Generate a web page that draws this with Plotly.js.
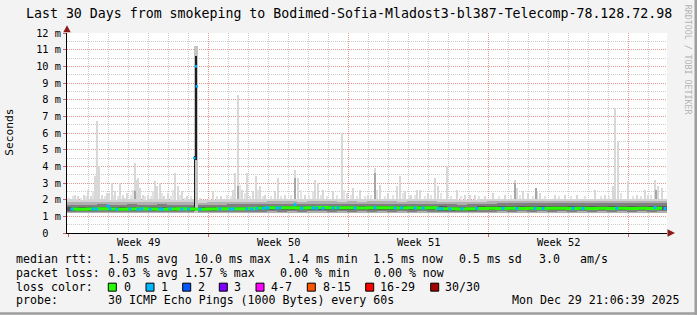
<!DOCTYPE html>
<html><head><meta charset="utf-8">
<script src="https://cdn.plot.ly/plotly-3.0.1.min.js"></script>
<style>html,body{margin:0;padding:0;background:#f3f3f3;}#chart{width:697px;height:315px;}</style>
</head><body><div id="chart"></div>
<script>
// ---------------- DATA (days since start of the 30-day window) ----------------
const weekLabels = ['Week 49', 'Week 50', 'Week 51', 'Week 52'];
const weekLabelDays = [3.55, 10.55, 17.55, 24.55];
const yTicks = [0,1,2,3,4,5,6,7,8,9,10,11,12];
const yTickText = ['0\u00a0\u00a0','1 m','2 m','3 m','4 m','5 m','6 m','7 m','8 m','9 m','10 m','11 m','12 m'];

// half-day bins (60 bins over 30 days), values in ms
const medianRtt = [
 1.44,1.43,1.44,1.45,1.44,1.43,1.44,1.45,1.44,1.43,
 1.44,1.45,1.44,1.43,1.44,1.45,1.46,1.45,1.47,1.50,
 1.52,1.51,1.52,1.50,1.51,1.53,1.52,1.51,1.52,1.50,
 1.51,1.52,1.51,1.50,1.51,1.50,1.51,1.46,1.45,1.44,
 1.45,1.47,1.48,1.47,1.48,1.47,1.48,1.47,1.48,1.48,
 1.47,1.48,1.47,1.48,1.47,1.48,1.47,1.48,1.47,1.48];
const smokeLo = [
 1.20,1.21,1.20,1.19,1.20,1.21,1.20,1.20,1.19,1.20,
 1.21,1.20,1.20,1.21,1.20,1.20,1.21,1.20,1.19,1.20,
 1.21,1.22,1.21,1.20,1.21,1.22,1.21,1.20,1.21,1.22,
 1.21,1.20,1.21,1.22,1.21,1.20,1.20,1.19,1.20,1.19,
 1.20,1.20,1.19,1.20,1.20,1.19,1.20,1.20,1.19,1.20,
 1.20,1.19,1.20,1.20,1.19,1.20,1.20,1.19,1.20,1.20];
const outerHi = [
 2.02,2.00,2.04,2.05,2.00,2.03,2.06,2.00,2.02,2.05,
 2.01,2.00,2.03,1.98,2.00,2.04,2.06,2.03,2.05,2.02,
 2.04,2.05,2.06,2.03,2.04,2.06,2.05,2.03,2.05,2.02,
 2.04,2.06,2.05,2.03,2.06,2.04,2.05,2.03,2.02,2.00,
 2.01,2.02,2.03,2.04,2.05,2.06,2.04,2.05,2.04,2.06,
 2.05,2.04,2.05,2.04,2.03,2.05,2.04,2.03,2.05,2.04];
const midHi = [
 1.86,1.85,1.88,1.87,1.85,1.87,1.89,1.85,1.86,1.88,
 1.85,1.84,1.86,1.83,1.85,1.87,1.89,1.87,1.88,1.88,
 1.90,1.90,1.91,1.89,1.90,1.91,1.90,1.89,1.90,1.89,
 1.90,1.91,1.90,1.89,1.91,1.90,1.90,1.88,1.87,1.86,
 1.87,1.88,1.90,1.91,1.92,1.92,1.91,1.92,1.91,1.92,
 1.92,1.91,1.92,1.91,1.90,1.92,1.91,1.90,1.92,1.91];
const darkLo = [
 1.28,1.27,1.28,1.28,1.27,1.28,1.28,1.27,1.28,1.28,
 1.27,1.28,1.28,1.27,1.28,1.28,1.29,1.28,1.29,1.29,
 1.30,1.29,1.30,1.29,1.30,1.30,1.29,1.30,1.29,1.30,
 1.29,1.30,1.29,1.30,1.29,1.30,1.29,1.28,1.28,1.27,
 1.28,1.29,1.29,1.30,1.29,1.30,1.29,1.30,1.29,1.30,
 1.29,1.30,1.29,1.30,1.29,1.30,1.29,1.30,1.29,1.30];
const darkHi = [
 1.70,1.69,1.71,1.72,1.70,1.71,1.72,1.70,1.70,1.72,
 1.70,1.69,1.70,1.68,1.70,1.71,1.73,1.72,1.73,1.74,
 1.76,1.76,1.77,1.75,1.76,1.77,1.76,1.75,1.76,1.75,
 1.76,1.77,1.76,1.75,1.77,1.76,1.76,1.74,1.72,1.71,
 1.72,1.74,1.77,1.78,1.79,1.80,1.79,1.80,1.79,1.80,
 1.80,1.79,1.80,1.79,1.78,1.80,1.79,1.78,1.80,1.79];
const coreLo = [
 1.35,1.34,1.35,1.36,1.35,1.34,1.35,1.36,1.35,1.34,
 1.35,1.36,1.35,1.34,1.35,1.36,1.36,1.37,1.36,1.37,
 1.38,1.37,1.38,1.37,1.38,1.38,1.37,1.38,1.37,1.38,
 1.37,1.38,1.37,1.38,1.37,1.38,1.37,1.35,1.35,1.34,
 1.35,1.36,1.36,1.37,1.36,1.37,1.36,1.37,1.36,1.37,
 1.36,1.37,1.36,1.37,1.36,1.37,1.36,1.37,1.36,1.37];
const coreHi = [
 1.57,1.56,1.58,1.58,1.57,1.57,1.58,1.57,1.57,1.58,
 1.56,1.56,1.57,1.55,1.56,1.57,1.59,1.58,1.59,1.61,
 1.63,1.63,1.64,1.62,1.63,1.64,1.63,1.62,1.63,1.62,
 1.63,1.64,1.63,1.62,1.64,1.63,1.63,1.60,1.58,1.57,
 1.58,1.60,1.62,1.63,1.64,1.65,1.64,1.65,1.64,1.65,
 1.65,1.64,1.65,1.64,1.63,1.65,1.64,1.63,1.65,1.64];

// individual ping outliers (light smoke spikes)
const spikeDays = [0.40,0.55,0.85,1.05,1.20,1.40,1.50,1.60,1.75,2.00,2.10,2.25,2.40,2.65,2.80,3.00,3.40,3.50,3.55,3.65,3.80,4.05,4.40,4.50,4.65,4.85,5.05,5.40,5.55,5.75,6.00,6.65,7.30,7.70,8.30,8.40,8.55,8.75,9.00,9.30,9.45,9.65,9.90,10.40,10.55,10.90,11.40,11.55,11.90,12.40,12.55,12.80,13.30,13.75,14.00,14.30,14.65,15.05,15.40,15.65,16.05,16.50,16.65,16.90,17.20,17.50,17.65,18.05,18.40,18.55,19.00,19.50,19.90,20.15,20.40,20.90,21.30,21.90,22.40,22.50,22.80,23.05,23.50,23.65,24.40,24.90,25.50,26.40,26.90,27.30,27.40,27.55,28.05,28.50,28.90,29.05,29.40,29.55,29.75];
const spikeTop  = [2.3,2.2,2.3,2.6,2.2,3.4,6.7,4.0,2.3,2.4,2.4,3.0,2.5,3.0,2.3,2.4,4.2,3.2,3.3,2.7,2.3,2.3,3.1,2.8,3.0,2.2,2.4,3.6,2.8,2.5,2.2,2.1,2.5,2.2,2.6,3.6,8.3,2.6,3.6,2.5,3.4,2.8,2.3,2.5,3.3,2.3,3.8,3.3,2.3,3.2,3.0,2.6,2.5,6.0,2.4,2.7,2.6,2.3,3.9,2.9,2.4,2.8,3.4,2.5,2.3,2.6,2.6,2.4,3.3,2.8,4.0,2.6,2.3,2.3,2.3,2.2,2.4,2.3,3.2,2.7,2.5,2.4,2.5,2.4,2.3,2.3,2.3,2.6,2.3,2.8,7.5,5.5,3.1,2.3,2.6,2.3,3.2,2.8,2.7];
// low, lighter outliers (haze just above the smoke)
const hazeDays = [0.10,0.30,0.70,0.95,1.30,1.90,2.35,2.55,2.90,3.20,3.30,3.90,4.20,4.30,4.75,5.20,5.30,5.65,5.90,6.20,7.10,7.50,8.00,8.20,8.65,8.90,9.15,9.55,9.80,10.20,10.70,11.20,11.70,12.10,12.30,12.70,13.00,13.50,13.85,14.20,14.50,14.90,15.20,15.50,15.90,16.30,16.80,17.10,17.40,17.90,18.20,18.70,19.20,19.70,20.60,21.60,22.20,22.65,23.30,23.90,24.60,25.20,25.90,26.70,27.10,27.70,28.30,28.70,29.20];
const hazeTop  = [2.1,2.2,2.1,2.2,2.5,2.2,2.3,2.2,2.1,2.3,2.6,2.2,2.2,2.5,2.4,2.2,2.6,2.3,2.1,2.2,2.1,2.2,2.3,2.2,2.9,2.4,2.2,2.6,2.2,2.2,2.2,2.3,2.6,2.2,2.5,2.3,2.2,2.3,2.6,2.3,2.2,2.2,2.3,2.6,2.2,2.3,2.4,2.2,2.3,2.2,2.3,2.4,2.2,2.2,2.2,2.2,2.3,2.3,2.2,2.2,2.2,2.2,2.2,2.2,2.2,2.4,2.2,2.2,2.3];
const darkSpikeDays = [3.40, 8.55, 11.40, 15.40, 22.40, 23.45, 29.45];
const darkSpikeTop  = [2.5, 2.8, 3.3, 3.6, 3.0, 2.7, 2.6];

// samples with 1/30 packet loss (median value at that time)
const loss1Days = [0.24,1.30,1.49,2.05,2.15,2.49,3.15,3.55,3.74,4.15,4.65,4.74,5.15,5.74,6.07,6.65,7.65,8.15,8.30,8.99,9.24,9.49,9.80,9.99,10.05,10.49,10.65,11.40,11.74,12.30,12.49,12.80,13.30,13.55,14.40,15.40,16.40,16.74,17.40,17.80,18.55,18.74,19.15,19.74,20.49,21.80,22.49,23.40,23.80,25.30,25.80,27.49,29.40,29.90];
const loss1Rtt  = [1.44,1.45,1.43,1.62,1.45,1.42,1.44,1.42,1.45,1.42,1.44,1.42,1.45,1.43,1.44,1.43,1.45,1.43,1.44,1.45,1.44,1.47,1.48,1.52,1.50,1.49,1.51,1.70,1.49,1.50,1.49,1.48,1.50,1.51,1.50,1.52,1.50,1.51,1.50,1.49,1.46,1.45,1.44,1.45,1.47,1.48,1.47,1.48,1.47,1.48,1.47,1.48,1.52,1.47];

// latency event around day 6.4
const eventThinDay  = [6.365];
const eventThinLo   = [1.35];
const eventThinHi   = [4.6];
const eventWideDay  = [6.45];
const eventWideLo   = [4.4];
const eventWideHi   = [10.6];
const eventOuterHi  = [11.2];
const eventMedDays  = [6.365, 6.44, 6.49];
const eventMedian   = [4.5, 10.0, 8.8];

// legend / statistics text
const lossLabels = ['0','1','2','3','4-7','8-15','16-29','30/30'];
const lossColors = ['#26ff00','#00b8ff','#0059ff','#7e00ff','#ff00ff','#ff5500','#ff0000','#a10000'];
const rttStats  = ['1.5 ms avg','10.0 ms max','1.4 ms min','1.5 ms now','0.5 ms sd','3.0','am/s'];
const lossStats = ['0.03 % avg','1.57 % max','0.00 % min','0.00 % now'];
const probeText = '30 ICMP Echo Pings (1000 Bytes) every 60s';
const dateText  = 'Mon Dec 29 21:06:39 2025';
const titleText = 'Last 30 Days from smokeping to Bodimed-Sofia-Mladost3-bl387-Telecomp-78.128.72.98';

// ---------------- LAYOUT HELPERS ----------------
const W = 697, H = 315, L = 67, R = 667, T = 33.333, B = 233.333;
const px = x => (x - L) / (R - L);
const py = y => (B - y) / (B - T);
const FONT = 'DejaVu Sans Mono';
const binDays = medianRtt.map((_, i) => 0.25 + 0.5 * i);

function bars(x, lo, hi, width, color) {
  return {type: 'bar', x: x, base: lo, y: hi.map((h, i) => h - lo[i]), width: width,
          marker: {color: color, line: {width: 0}}, hoverinfo: 'skip', showlegend: false};
}
function marks(x, y, color, size) {
  return {type: 'scatter', mode: 'markers', x: x, y: y, hoverinfo: 'skip', showlegend: false,
          marker: {symbol: 'square', size: size, color: color, line: {width: 0}}};
}
const spikeBase = spikeDays.map(() => 1.25);
const hazeBase = hazeDays.map(() => 1.25);
const darkSpikeBase = darkSpikeDays.map(() => 1.4);

const traces = [
  bars(hazeDays, hazeBase, hazeTop, 0.12, '#e3e3e3'),
  bars(spikeDays, spikeBase, spikeTop, 0.09, '#d8d8d8'),
  bars(darkSpikeDays, darkSpikeBase, darkSpikeTop, 0.06, '#a6a6a6'),
  bars(binDays, smokeLo, outerHi, 0.5, '#d4d4d4'),
  bars(binDays, smokeLo, midHi, 0.5, '#b0b0b0'),
  bars(binDays, darkLo, darkHi, 0.5, '#808080'),
  bars(binDays, coreLo, coreHi, 0.5, '#595959'),
  {type: 'scatter', mode: 'lines', x: binDays, y: medianRtt, line: {shape: 'hvh', color: lossColors[0], width: 3},
   hoverinfo: 'skip', showlegend: false},
  marks(loss1Days, loss1Rtt, lossColors[1], 3),
  bars(eventWideDay, [1.2], eventOuterHi, 0.17, '#c4c4c4'),
  bars(eventThinDay, eventThinLo, eventThinHi, 0.05, '#1e1e1e'),
  bars(eventWideDay, eventWideLo, eventWideHi, 0.13, '#1e1e1e'),
  marks(eventMedDays, eventMedian, lossColors[1], 2.5)
];

const annotations = [];
function txt(t, x, y, size, opts) {
  annotations.push(Object.assign({text: t, xref: 'paper', yref: 'paper', x: px(x), y: py(y),
    xanchor: 'left', yanchor: 'middle', showarrow: false, borderpad: 0,
    font: {family: FONT, size: size, color: '#000'}}, opts || {}));
}
txt(titleText, 348.5, 13.8, 13.25, {xanchor: 'center'});
txt('Seconds', 10, 133, 11.2, {xanchor: 'center', textangle: -90});
txt('RRDTOOL / TOBI OETIKER', 688, 60, 8.3, {xanchor: 'center', textangle: 90, font: {family: FONT, size: 8.3, color: '#b4b4b4'}});
weekLabels.forEach((w, i) => annotations.push({text: w, xref: 'x', yref: 'paper', x: weekLabelDays[i], y: py(242.2),
  xanchor: 'center', yanchor: 'middle', showarrow: false, borderpad: 0, font: {family: FONT, size: 10.3, color: '#000'}}));
const FS = 11.6, lx = 15.4;
const y1 = 259.8, y2 = 273.2, y3 = 287.0, y4 = 300.5;
txt('median rtt:', lx, y1, FS);
[106.7, 192.7, 286.7, 372.1, 457.7, 537.7, 578.7].forEach((x, i) => txt(rttStats[i], x, y1, FS));
txt('packet loss:', lx, y2, FS);
[106.7, 184.4, 278.7, 372.7].forEach((x, i) => txt(lossStats[i], x, y2, FS));
txt('loss color:', lx, y3, FS);
const boxX = [108.3, 146, 182.7, 219.3, 256, 307.3, 365.7, 430.7];
const labX = [122.7, 160.1, 196.7, 233.4, 270.1, 322.1, 379.4, 444.4];
lossLabels.forEach((l, i) => txt(l, labX[i], y3, FS));
txt('probe:', lx, y4, FS);
txt(probeText, 106.7, y4, FS);
txt(dateText, 680.5, y4, FS, {xanchor: 'right'});

const shapes = lossColors.map((c, i) => ({type: 'rect', xref: 'paper', yref: 'paper',
  x0: px(boxX[i]), x1: px(boxX[i] + 8), y0: py(291.5), y1: py(283.5),
  fillcolor: c, line: {color: '#000', width: 1}}));
shapes.push({type: 'path', xref: 'paper', yref: 'paper',
  path: `M ${px(675)} ${py(233.3)} L ${px(667.5)} ${py(229.5)} L ${px(667.5)} ${py(237.1)} Z`,
  fillcolor: '#8b1a1a', line: {width: 0}});
shapes.push({type: 'path', xref: 'paper', yref: 'paper',
  path: `M ${px(67)} ${py(25.5)} L ${px(63.3)} ${py(32.5)} L ${px(70.7)} ${py(32.5)} Z`,
  fillcolor: '#8b1a1a', line: {width: 0}});
shapes.push({type: 'rect', xref: 'paper', yref: 'paper', x0: px(0), x1: px(697), y0: py(315), y1: py(312.5), fillcolor: '#9e9e9e', line: {width: 0}});
shapes.push({type: 'rect', xref: 'paper', yref: 'paper', x0: px(694.5), x1: px(697), y0: py(315), y1: py(0), fillcolor: '#9e9e9e', line: {width: 0}});

const layout = {
  width: W, height: H,
  margin: {l: L, r: W - R, t: T, b: H - B, pad: 0},
  paper_bgcolor: '#f3f3f3', plot_bgcolor: '#ffffff',
  barmode: 'overlay', bargap: 0, showlegend: false, hovermode: false,
  font: {family: FONT, size: 10.3, color: '#000'},
  xaxis: {range: [0, 30], tick0: 0.05, dtick: 7, showticklabels: false,
    ticks: 'outside', ticklen: 3, tickcolor: '#d06060',
    showgrid: true, gridcolor: '#e49696', griddash: '1px,1px', gridwidth: 1,
    minor: {tick0: 0.05, dtick: 1, showgrid: true, gridcolor: '#cccccc', griddash: '1px,1px'},
    showline: true, linecolor: '#000', linewidth: 1, zeroline: false, fixedrange: true},
  yaxis: {range: [0, 12], tickmode: 'array', tickvals: yTicks, ticktext: yTickText,
    ticks: 'outside', ticklen: 3, tickcolor: '#d06060',
    tickfont: {family: FONT, size: 10.3, color: '#000'},
    showgrid: true, gridcolor: '#e49696', griddash: '1px,1px', gridwidth: 1,
    minor: {dtick: 0.5, showgrid: true, gridcolor: '#cccccc', griddash: '1px,1px'},
    showline: true, linecolor: '#000', linewidth: 1, zeroline: false, fixedrange: true},
  annotations: annotations, shapes: shapes
};
Plotly.newPlot('chart', traces, layout, {staticPlot: true, displayModeBar: false});
</script></body></html>
